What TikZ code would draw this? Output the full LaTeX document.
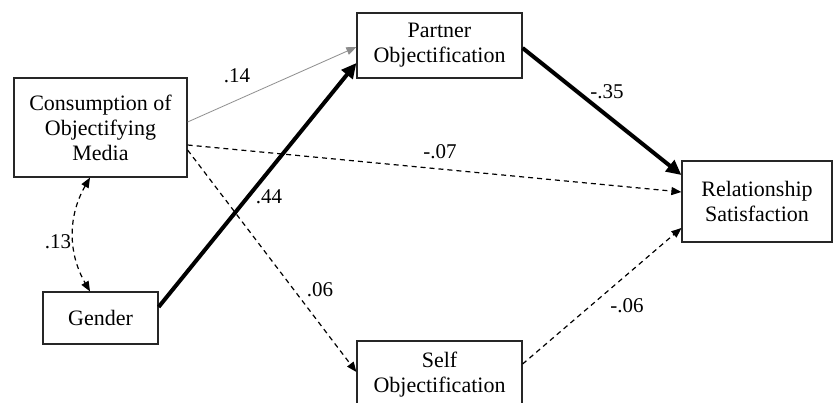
\documentclass[tikz,border=0pt]{standalone}
\usepackage{fontspec}
\setmainfont{Liberation Serif}
\usetikzlibrary{arrows.meta}
\begin{document}
\begin{tikzpicture}[x=1pt,y=-1pt,
  box/.style={draw=black!85, line width=1.2pt, inner sep=0pt, align=center, font=\fontsize{22}{25}\selectfont},
  lab/.style={font=\fontsize{21}{24}\selectfont, inner sep=0pt},
  thinarrow/.style={draw=black!45, line width=0.8pt, -{Triangle[length=10pt,width=8pt]}},
  dsharrow/.style={line width=1.2pt, dash pattern=on 5pt off 4pt, -{Triangle[length=10pt,width=8pt]}},
  dblarrow/.style={line width=1.2pt, dash pattern=on 5pt off 4pt, {Triangle[length=10pt,width=8pt]}-{Triangle[length=10pt,width=8pt]}},
  thkarrow/.style={line width=4pt, -{Triangle[length=15pt,width=14pt]}}]
\clip (0,0) rectangle (834,402);
\node[box, minimum width=173pt, minimum height=99pt] (cons) at (100.5,127.5) {Consumption of\\Objectifying\\Media};
\node[box, minimum width=165pt, minimum height=65pt] (partner) at (439.5,45.5) {Partner\\Objectification};
\node[box, minimum width=150pt, minimum height=81pt] (rel) at (757,201.5) {Relationship\\Satisfaction};
\node[box, minimum width=115pt, minimum height=52pt] (gender) at (100.5,318) {Gender};
\node[box, minimum width=165pt, minimum height=67pt] (self) at (439.5,374.5) {Self\\Objectification};

\draw[thinarrow] ([yshift=5.5pt]cons.east) -- ([yshift=-1.5pt]partner.west);
\draw[dsharrow] ([yshift=-17.5pt]cons.east) -- ([yshift=9.5pt]rel.west);
\draw[dsharrow] ([yshift=-22.5pt]cons.east) -- ([yshift=2.5pt]self.west);
\draw[thkarrow] ([yshift=11pt]gender.east) -- ([yshift=-17.5pt]partner.west);
\draw[thkarrow] ([yshift=-2.5pt]partner.east) -- ([yshift=26.5pt]rel.west);
\draw[dsharrow] ([yshift=10.5pt]self.east) -- ([yshift=-26.5pt]rel.west);
\draw[dblarrow] ([xshift=-10.5pt]cons.south) to[bend right=30] ([xshift=-10.5pt]gender.north);

\node[lab] (l14) at (237,76) {.14};
\node[lab] (l07) at (440,152) {-.07};
\node[lab] (l44) at (269,197) {.44};
\node[lab] (l06a) at (320,290) {.06};
\node[lab] (l35) at (607,92) {-.35};
\node[lab] (l06b) at (627,306) {-.06};
\node[lab] (l13) at (58,242) {.13};
\end{tikzpicture}
\end{document}
